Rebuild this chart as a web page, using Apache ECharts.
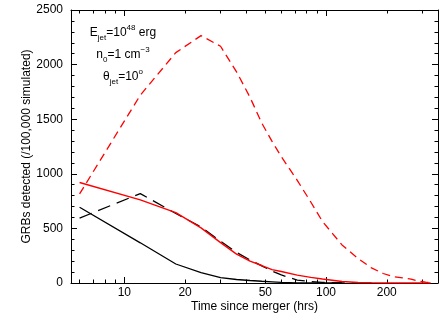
<!DOCTYPE html>
<html><head><meta charset="utf-8">
<script src="https://cdn.jsdelivr.net/npm/echarts@6/dist/echarts.min.js"></script>
<style>html,body{margin:0;padding:0;background:#fff}#c{width:442px;height:315px}</style>
</head><body><div id="c"></div>
<script>
// time since merger (hrs)
const times = [6,12,18,24,30,36,42,48,54,60,72,84,96,120,144,168,192,216,240,264,288,312,330];
// GRBs detected (/100,000 simulated)
const redDashed   = [816,1720,2110,2265,2168,1934,1700,1465,1297,1157,940,742,564,349,225,138,87,57,46,35,18,8,5];
const redSolid    = [920,761,645,505,370,264,200,160,122,105,72,52,37,14,5,2,0,0,0,0,0,0,0];
const blackDashed = [594,819,636,514,382,281,211,157,110,74,26,14,6,0,0,null,null,null,null,null,null,null,null];
const blackSolid  = [694,368,174,94,50,32,23,16,11,6,2,0,0,0,null,null,null,null,null,null,null,null,null];

const xLabelValues = [10,20,50,100,200];
const xMajorTicks = [10,100];
const xMinorTicks = [6,7,8,9,20,30,40,50,60,70,80,90,200,300];

const FONT = 'Liberation Sans, Arial, Helvetica, sans-serif';
function pairs(vals){ return times.map((t,i)=>[t, vals[i]]).filter(p=>p[1]!==null); }

const X_MIN = 5.44, X_MAX = 359;
const GRID = {left:71, right:4, top:10, bottom:32, containLabel:false, outerBoundsMode:'none'};
function xAx(pos, grid, ticks, len, showLine, extra){
  return Object.assign({
    type:'log', logBase:10, min:X_MIN, max:X_MAX, position:pos, gridIndex:grid,
    splitLine:{show:false}, minorSplitLine:{show:false},
    axisLine:{show:showLine, onZero:false, lineStyle:{color:'#000', width:1}},
    axisTick:{show:true, inside:true, length:len, customValues:ticks, lineStyle:{color:'#000', width:1}},
    axisLabel:{show:false}
  }, extra||{});
}
const xAxes = [
  xAx('bottom', 0, xMajorTicks, 6, true, {
    name:'Time since merger (hrs)', nameLocation:'middle', nameGap:18, nameMoveOverlap:false,
    nameTextStyle:{fontFamily:FONT, fontSize:12, color:'#000'},
    axisLabel:{show:true, customValues:xLabelValues, fontFamily:FONT, fontSize:12, color:'#000', margin:4,
      formatter:v=>String(Math.round(v))}
  }),
  xAx('top', 0, xMajorTicks, 6, true),
  xAx('bottom', 1, xMinorTicks, 3.5, false),
  xAx('top', 1, xMinorTicks, 3.5, false)
];
function yAx(pos, grid, extra){
  return Object.assign({
    type:'value', min:0, max:2500, interval:500, position:pos, gridIndex:grid,
    splitLine:{show:false},
    axisLine:{show:true, onZero:false, lineStyle:{color:'#000', width:1}},
    axisTick:{show:true, inside:true, length:6, lineStyle:{color:'#000', width:1}},
    minorTick:{show:true, splitNumber:5, length:3.5, lineStyle:{color:'#000', width:1}},
    axisLabel:{show:false}
  }, extra||{});
}
const yAxes = [
  yAx('left', 0, {
    name:'GRBs detected (/100,000 simulated)', nameLocation:'middle', nameGap:38, nameMoveOverlap:false,
    nameTextStyle:{fontFamily:FONT, fontSize:12, color:'#000'},
    axisLabel:{show:true, fontFamily:FONT, fontSize:12, color:'#000', margin:8, formatter:v=>String(v)}
  }),
  yAx('right', 0),
  yAx('left', 1, {show:false})
];

const chart = echarts.init(document.getElementById('c'), null, {renderer:'canvas'});
chart.setOption({
  animation:false,
  backgroundColor:'#fff',
  grid:[GRID, Object.assign({}, GRID)],
  xAxis:xAxes,
  yAxis:yAxes,
  series:[
    {type:'line', name:'red dashed', data:pairs(redDashed), showSymbol:false, symbol:'none',
     lineStyle:{color:'#ff0000', width:1.3, type:[8,5]}},
    {type:'line', name:'black dashed', data:pairs(blackDashed), showSymbol:false, symbol:'none',
     lineStyle:{color:'#000', width:1.3, type:[13,7]}},
    {type:'line', name:'black solid', data:pairs(blackSolid), showSymbol:false, symbol:'none',
     lineStyle:{color:'#000', width:1.3}},
    {type:'line', name:'red solid', data:pairs(redSolid), showSymbol:false, symbol:'none',
     lineStyle:{color:'#ff0000', width:1.4}}
  ],
  graphic:[
    {type:'text', x:123, y:33, style:{align:'center', verticalAlign:'middle', fontFamily:FONT,
      text:'{n|E}{s|jet}{n|=10}{p|48}{n| erg}',
      rich:{n:{fontSize:12, fontFamily:FONT, fill:'#000', lineHeight:18, verticalAlign:'middle'},
            s:{fontSize:8, fontFamily:FONT, fill:'#000', lineHeight:18, verticalAlign:'bottom'},
            p:{fontSize:8, fontFamily:FONT, fill:'#000', lineHeight:18, verticalAlign:'top'}}}},
    {type:'text', x:123, y:55, style:{align:'center', verticalAlign:'middle', fontFamily:FONT,
      text:'{n|n}{s|0}{n|=1 cm}{p|−3}',
      rich:{n:{fontSize:12, fontFamily:FONT, fill:'#000', lineHeight:18, verticalAlign:'middle'},
            s:{fontSize:8, fontFamily:FONT, fill:'#000', lineHeight:18, verticalAlign:'bottom'},
            p:{fontSize:8, fontFamily:FONT, fill:'#000', lineHeight:18, verticalAlign:'top'}}}},
    {type:'text', x:123, y:77, style:{align:'center', verticalAlign:'middle', fontFamily:FONT,
      text:'{n|θ}{s|jet}{n|=10}{p|o}',
      rich:{n:{fontSize:12, fontFamily:FONT, fill:'#000', lineHeight:18, verticalAlign:'middle'},
            s:{fontSize:8, fontFamily:FONT, fill:'#000', lineHeight:18, verticalAlign:'bottom'},
            p:{fontSize:8, fontFamily:FONT, fill:'#000', lineHeight:18, verticalAlign:'top'}}}}
  ]
});
</script></body></html>
